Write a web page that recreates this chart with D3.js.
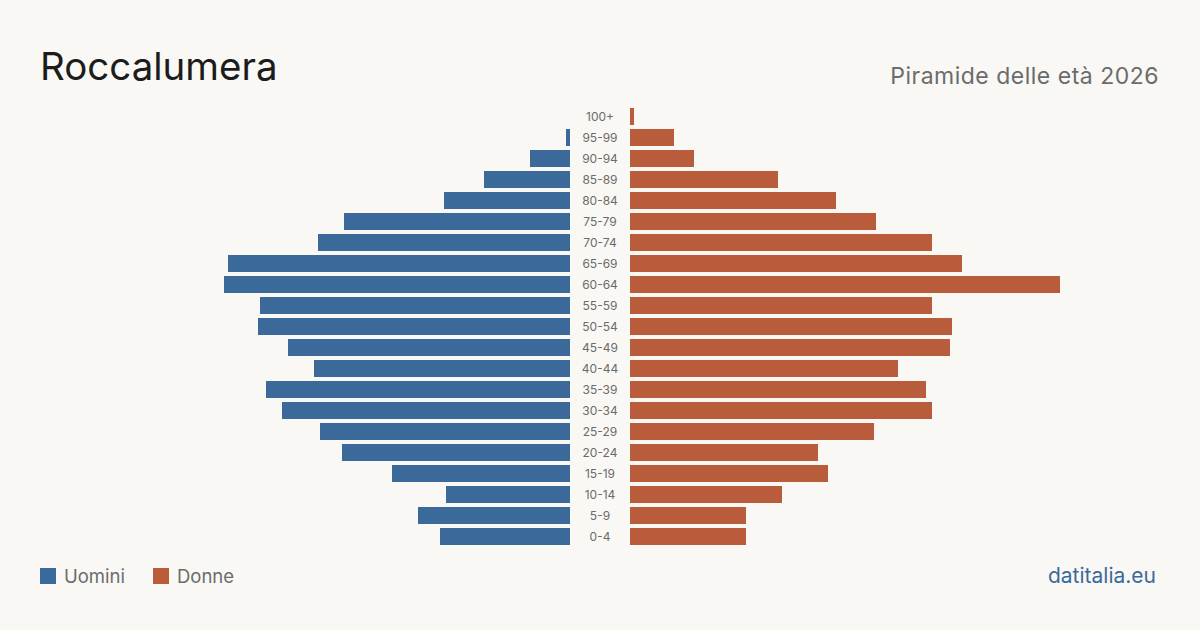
<!DOCTYPE html>
<html>
<head>
<meta charset="utf-8">
<script src="https://cdn.jsdelivr.net/npm/d3@7"></script>
<style>
  html, body { margin: 0; padding: 0; background: #f9f8f4; }
  svg { display: block; font-family: Inter, "Noto Sans", sans-serif; }
</style>
</head>
<body>
<div id="chart"></div>
<script>
const width = 1200;
const height = 630;

// age groups, top to bottom
const ages = ["100+", "95-99", "90-94", "85-89", "80-84", "75-79", "70-74", "65-69", "60-64", "55-59",
  "50-54", "45-49", "40-44", "35-39", "30-34", "25-29", "20-24", "15-19", "10-14", "5-9", "0-4"];
const uomini = [0, 2, 20, 43, 63, 113, 126, 171, 173, 155, 156, 141, 128, 152, 144, 125, 114, 89, 62, 76, 65];
const donne = [2, 22, 32, 74, 103, 123, 151, 166, 215, 151, 161, 160, 134, 148, 151, 122, 94, 99, 76, 58, 58];

const blue = "#3b6a9a";
const red = "#b85c3c";
const grey = "#6b6b6b";

const svg = d3.select("#chart")
  .append("svg")
  .attr("width", width)
  .attr("height", height);

svg.append("rect").attr("width", width).attr("height", height).attr("fill", "#f9f8f4");

// titles
svg.append("text")
  .attr("x", 40).attr("y", 80)
  .attr("font-size", 38.5)
  .attr("fill", "#1c1c1c")
  .text("Roccalumera");

svg.append("text")
  .attr("x", 1159).attr("y", 84)
  .attr("text-anchor", "end")
  .attr("font-size", 23)
  .attr("letter-spacing", 0.5)
  .attr("fill", grey)
  .text("Piramide delle età 2026");

const y = d3.scaleBand()
  .domain(ages)
  .range([106, 547])
  .paddingInner(4 / 21)
  .paddingOuter(2 / 21);

const x = d3.scaleLinear()
  .domain([0, d3.max(donne)])
  .range([0, 430]);

const leftEdge = 570, rightEdge = 630;

svg.append("g").selectAll("rect")
  .data(ages)
  .enter()
  .append("rect")
  .attr("x", (d, i) => leftEdge - x(uomini[i]))
  .attr("y", d => y(d))
  .attr("width", (d, i) => x(uomini[i]))
  .attr("height", y.bandwidth())
  .attr("fill", blue);

svg.append("g").selectAll("rect")
  .data(ages)
  .enter()
  .append("rect")
  .attr("x", rightEdge)
  .attr("y", d => y(d))
  .attr("width", (d, i) => x(donne[i]))
  .attr("height", y.bandwidth())
  .attr("fill", red);

svg.append("g").selectAll("text")
  .data(ages)
  .enter()
  .append("text")
  .attr("x", 600)
  .attr("y", d => y(d) + y.bandwidth() / 2)
  .attr("dy", "0.35em")
  .attr("text-anchor", "middle")
  .attr("font-size", 12)
  .attr("fill", grey)
  .text(d => d);

// legend
const legend = [["Uomini", blue, 40], ["Donne", red, 153]];
legend.forEach(l => {
  svg.append("rect")
    .attr("x", l[2]).attr("y", 568)
    .attr("width", 16).attr("height", 16)
    .attr("fill", l[1]);
  svg.append("text")
    .attr("x", l[2] + 24).attr("y", 583)
    .attr("font-size", 18.5)
    .attr("fill", grey)
    .text(l[0]);
});

svg.append("text")
  .attr("x", 1156).attr("y", 583)
  .attr("text-anchor", "end")
  .attr("font-size", 21)
  .attr("fill", blue)
  .text("datitalia.eu");
</script>
</body>
</html>
